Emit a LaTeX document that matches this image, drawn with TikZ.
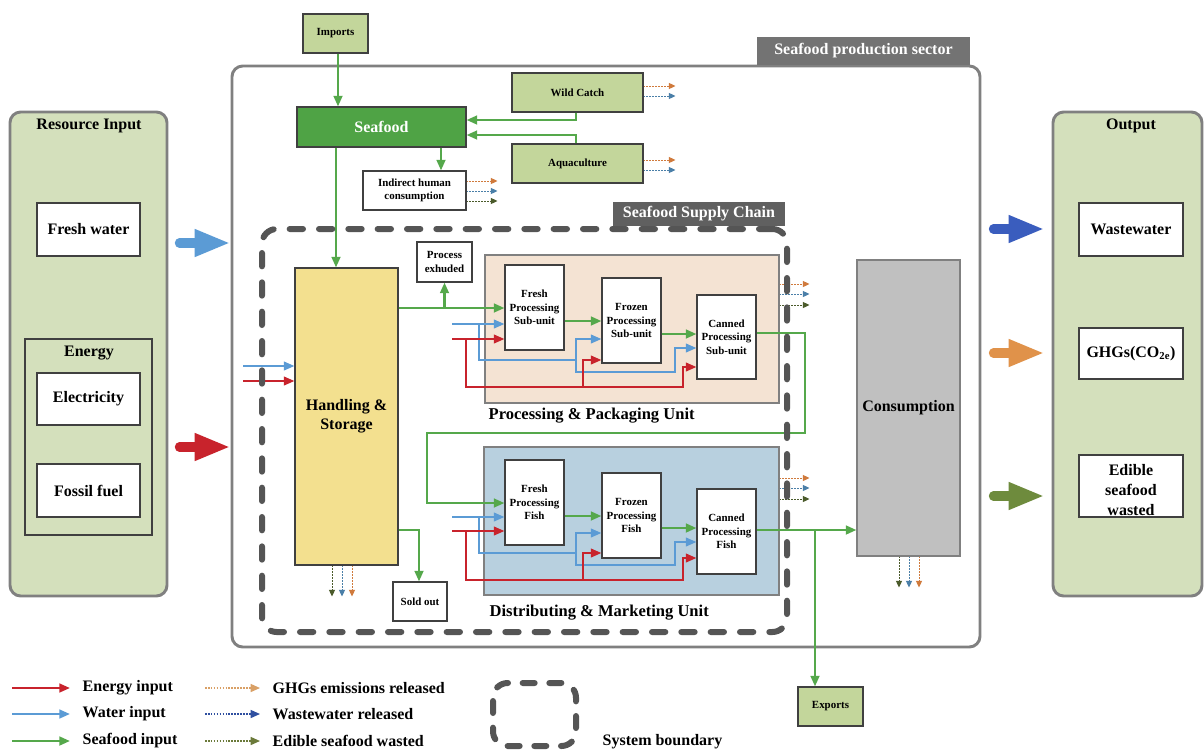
\documentclass[tikz,border=0pt]{standalone}
\usepackage{fontspec}
\setmainfont{Liberation Serif}
\usetikzlibrary{arrows.meta,fit,calc}
\definecolor{panelgreen}{HTML}{D4E0BC}
\definecolor{boxgreen}{HTML}{C3D69B}
\definecolor{seafoodgreen}{HTML}{4FA345}
\definecolor{arrgreen}{HTML}{55A84B}
\definecolor{handyellow}{HTML}{F3E08F}
\definecolor{procpeach}{HTML}{F4E3D3}
\definecolor{distblue}{HTML}{B8D0DF}
\definecolor{consgray}{HTML}{C0C0C0}
\definecolor{framegray}{HTML}{808080}
\definecolor{dashgray}{HTML}{555555}
\definecolor{tabgray}{HTML}{737373}
\definecolor{tabdark}{HTML}{606060}
\definecolor{enred}{HTML}{C8232C}
\definecolor{wblue}{HTML}{5B9BD5}
\definecolor{dotorange}{HTML}{D07A3C}
\definecolor{dotblue}{HTML}{4A7FA8}
\definecolor{dotgreen}{HTML}{4B5B2B}
\definecolor{legorange}{HTML}{D9A066}
\definecolor{legblue}{HTML}{2F4FA0}
\definecolor{legolive}{HTML}{6B7A3A}
\definecolor{outblue}{HTML}{3A5DBE}
\definecolor{outorange}{HTML}{E0924A}
\definecolor{outolive}{HTML}{6E8B3D}
\definecolor{edge}{HTML}{404040}
\tikzset{
  bigtxt/.style={font=\fontsize{12}{14}\selectfont\bfseries},
  smalltxt/.style={font=\fontsize{8.2}{10}\selectfont\bfseries},
  fbox/.style={draw=edge, line width=0.8pt, inner sep=0pt},
  wbox/.style={fbox, fill=white},
  gbox/.style={fbox, fill=boxgreen},
  btext/.style={label={[bigtxt, align=center]center:{#1}}},
  stext/.style={label={[smalltxt, align=center]center:{#1}}},
  wtext/.style={label={[bigtxt, align=center, text=white]center:{#1}}},
  panel/.style={draw=framegray, line width=2.2pt, fill=panelgreen, rounded corners=8pt, inner sep=0pt},
  gline/.style={draw=arrgreen, line width=1.9pt},
  garrow/.style={gline, -{Triangle[length=8pt,width=6.5pt]}},
  bline/.style={draw=wblue, line width=1.5pt},
  barrow/.style={bline, -{Triangle[length=8pt,width=6.5pt]}},
  rline/.style={draw=enred, line width=1.5pt},
  rarrow/.style={rline, -{Triangle[length=8pt,width=6.5pt]}},
  dotarr/.style={line width=0.7pt, dash pattern=on 1.2pt off 1pt, -{Triangle[length=5pt,width=4.5pt]}},
  bigarrow/.style={line width=7pt, line cap=round, -{Triangle[length=27pt,width=19pt]}},
  bound/.style={draw=dashgray, line width=4.5pt, dash pattern=on 10pt off 12pt, line cap=round, rounded corners=11pt, inner sep=0pt},
}
\begin{document}
\begin{tikzpicture}[x=0.75pt, y=-0.75pt]
\useasboundingbox[fill=white] (0,0) rectangle (1204,751);

% ---------- left panel
\node[panel, fit={(10,112) (167,596)}] (inpanel) {};
\node[bigtxt] (inlabel) at (89,126) {Resource Input};
\node[wbox, fit={(37,203) (140,256)}, btext={Fresh water}] (freshw) {};
\node[fbox, fill=panelgreen, fit={(25,339) (152,535)}] (energy) {};
\node[bigtxt] (energylabel) at (89,353) {Energy};
\node[wbox, fit={(37,373) (140,425)}, btext={Electricity}] (elec) {};
\node[wbox, fit={(37,464) (140,517)}, btext={Fossil fuel}] (fossil) {};

% ---------- right panel
\node[panel, fit={(1053,112) (1202,596)}] (outpanel) {};
\node[bigtxt] (outlabel) at (1131,126) {Output};
\node[wbox, fit={(1079,203) (1183,256)}, btext={Wastewater}] (wastew) {};
\node[wbox, fit={(1079,328) (1183,379)}, btext={GHGs(CO\textsubscript{2e})}] (ghg) {};
\node[wbox, fit={(1079,455) (1183,517)}] (edible) {};
\node[align=center, font=\fontsize{12}{15}\selectfont\bfseries] (ediblelabel) at (1131,490) {Edible\\seafood\\wasted};

% ---------- main frame
\node[draw=framegray, line width=2.2pt, rounded corners=8pt, inner sep=0pt, fit={(232,66) (980,647)}] (frame) {};
\node[fill=tabgray, inner sep=0pt, fit={(757,37) (970,65)}, wtext={Seafood production sector}] (tabps) {};

% big arrows
\draw[bigarrow, wblue] ($(inpanel.east |- 0,243)+(11,0)$) -- (frame.west |- 0,243);
\draw[bigarrow, enred] ($(inpanel.east |- 0,447)+(11,0)$) -- (frame.west |- 0,447);
\draw[bigarrow, outblue] ($(frame.east |- 0,229)+(12,0)$) -- ($(outpanel.west |- 0,229)+(-7,0)$);
\draw[bigarrow, outorange] ($(frame.east |- 0,353)+(12,0)$) -- ($(outpanel.west |- 0,353)+(-7,0)$);
\draw[bigarrow, outolive] ($(frame.east |- 0,496)+(12,0)$) -- ($(outpanel.west |- 0,496)+(-7,0)$);

% ---------- top part
\node[gbox, fit={(303,14) (368,53)}, stext={Imports}] (imports) {};
\node[fbox, fill=seafoodgreen, fit={(297,107) (466,147)}, wtext={Seafood}] (seafood) {};
\node[gbox, fit={(512,73) (643,112)}, stext={Wild Catch}] (wild) {};
\node[gbox, fit={(512,144) (643,183)}, stext={Aquaculture}] (aqua) {};
\node[wbox, fit={(363,171) (466,210)}, stext={Indirect human\\consumption}] (indirect) {};

\draw[garrow] (imports.south -| 338,0) -- (seafood.north -| 338,0);
\draw[garrow] (wild.south -| 576,0) |- (seafood.east |- 0,120);
\draw[garrow] (aqua.north -| 576,0) |- (seafood.east |- 0,135);
\draw[garrow] (seafood.south -| 441,0) -- (indirect.north -| 441,0);

\draw[dotarr, dotorange] (wild.east |- 0,86) -- ++(32,0);
\draw[dotarr, dotblue] (wild.east |- 0,96) -- ++(32,0);
\draw[dotarr, dotorange] (aqua.east |- 0,160) -- ++(32,0);
\draw[dotarr, dotblue] (aqua.east |- 0,170) -- ++(32,0);
\draw[dotarr, dotorange] (indirect.east |- 0,181) -- ++(31,0);
\draw[dotarr, dotblue] (indirect.east |- 0,191) -- ++(31,0);
\draw[dotarr, dotgreen] (indirect.east |- 0,201) -- ++(31,0);

% ---------- supply chain
\node[fbox, fill=handyellow, fit={(295,268) (398,565)}, btext={Handling \&\\Storage}] (handling) {};
\draw[garrow] (seafood.south -| 336,0) -- (handling.north -| 336,0);
\node[wbox, fit={(417,242) (472,282)}, stext={Process\\exhuded}] (exh) {};
\node[wbox, fit={(393,582) (447,621)}, stext={Sold out}] (soldout) {};

\coordinate (hb) at (243,366);
\coordinate (hr) at (243,381);
\draw[barrow] (hb) -- (handling.west |- hb);
\draw[rarrow] (hr) -- (handling.west |- hr);

\draw[dotarr, dotgreen] (handling.south -| 332,0) -- ++(0,31);
\draw[dotarr, dotblue] (handling.south -| 342,0) -- ++(0,31);
\draw[dotarr, dotorange] (handling.south -| 352,0) -- ++(0,31);

% processing & packaging
\node[draw=framegray, line width=0.8pt, fill=procpeach, inner sep=0pt, fit={(485,255) (779,403)}] (procunit) {};
\node[font=\fontsize{12.4}{14}\selectfont\bfseries, anchor=west] (proclabel) at (484,416) {Processing \& Packaging Unit};
\node[wbox, fit={(505,265) (564,350)}, stext={Fresh\\Processing\\Sub-unit}] (fresh1) {};
\node[wbox, fit={(602,278) (661,363)}, stext={Frozen\\Processing\\Sub-unit}] (frozen1) {};
\node[wbox, fit={(697,295) (756,379)}, stext={Canned\\Processing\\Sub-unit}] (canned1) {};

% distributing & marketing
\node[draw=framegray, line width=0.8pt, fill=distblue, inner sep=0pt, fit={(484,447) (779,595)}] (distunit) {};
\node[font=\fontsize{12.4}{14}\selectfont\bfseries, anchor=west] (distlabel) at (485,613) {Distributing \& Marketing Unit};
\node[wbox, fit={(505,460) (564,545)}, stext={Fresh\\Processing\\Fish}] (fresh2) {};
\node[wbox, fit={(602,473) (661,558)}, stext={Frozen\\Processing\\Fish}] (frozen2) {};
\node[wbox, fit={(697,489) (756,574)}, stext={Canned\\Processing\\Fish}] (canned2) {};

% consumption & exports
\node[fbox, fill=consgray, draw=framegray, fit={(857,260) (960,556)}, btext={Consumption}] (cons) {};
\node[gbox, fit={(798,687) (863,726)}, stext={Exports}] (exports) {};

% green flows
\draw[garrow] (handling.east |- 0,308) -- (fresh1.west |- 0,308);
\draw[garrow] (exh.south |- 0,308) -- (exh.south);
\draw[garrow] (fresh1.east |- 0,321) -- (frozen1.west |- 0,321);
\draw[garrow] (frozen1.east |- 0,334) -- (canned1.west |- 0,334);
\draw[garrow] (canned1.east |- 0,333) -- (805,333) -- (805,433) -- (427,433) -- (427,503) -- (fresh2.west |- 0,503);
\draw[garrow] (fresh2.east |- 0,516) -- (frozen2.west |- 0,516);
\draw[garrow] (frozen2.east |- 0,528) -- (canned2.west |- 0,528);
\draw[garrow] (canned2.east |- 0,530) -- (cons.west |- 0,530);
\draw[garrow] (815,530) -- (exports.north -| 815,0);
\draw[garrow] (handling.east |- 0,530) -| (soldout.north -| 419,0);

% water / energy in processing unit
\coordinate (pb) at (452,324);
\coordinate (pr) at (452,339);
\draw[barrow] (pb) -- (fresh1.west |- pb);
\draw[barrow] (479,324) -- (479,360) -- (576,360) -- (576,339) -- (frozen1.west |- 0,339);
\draw[barrow] (576,360) -- (576,372) -- (675,372) -- (675,348) -- (canned1.west |- 0,348);
\draw[rarrow] (pr) -- (fresh1.west |- pr);
\draw[rarrow] (466,339) -- (466,387) -- (683,387) -- (683,367) -- (canned1.west |- 0,367);
\draw[rarrow] (583,387) -- (583,360) -- (frozen1.west |- 0,360);

% water / energy in distributing unit
\coordinate (db) at (452,517);
\coordinate (dr) at (452,531);
\draw[barrow] (db) -- (fresh2.west |- db);
\draw[barrow] (479,517) -- (479,553) -- (576,553) -- (576,533) -- (frozen2.west |- 0,533);
\draw[barrow] (576,553) -- (576,565) -- (675,565) -- (675,542) -- (canned2.west |- 0,542);
\draw[rarrow] (dr) -- (fresh2.west |- dr);
\draw[rarrow] (466,531) -- (466,580) -- (683,580) -- (683,558) -- (canned2.west |- 0,558);
\draw[rarrow] (583,580) -- (583,553) -- (frozen2.west |- 0,553);

% dotted outputs
\draw[dotarr, dotorange] (procunit.east |- 0,284) -- ++(30,0);
\draw[dotarr, dotblue] (procunit.east |- 0,294) -- ++(30,0);
\draw[dotarr, dotgreen] (procunit.east |- 0,305) -- ++(30,0);
\draw[dotarr, dotorange] (distunit.east |- 0,478) -- ++(30,0);
\draw[dotarr, dotblue] (distunit.east |- 0,488) -- ++(30,0);
\draw[dotarr, dotgreen] (distunit.east |- 0,499) -- ++(30,0);
\draw[dotarr, dotgreen] (cons.south -| 899,0) -- ++(0,31);
\draw[dotarr, dotblue] (cons.south -| 909,0) -- ++(0,31);
\draw[dotarr, dotorange] (cons.south -| 919,0) -- ++(0,31);

% supply chain boundary
\node[bound, fit={(262,229) (787,632)}] (scb) {};
\node[fill=tabdark, inner sep=0pt, fit={(613,202) (785,226)}, wtext={Seafood Supply Chain}] (tabsc) {};

% ---------- legend
\coordinate (l1) at (12,688);
\coordinate (l2) at (12,714);
\coordinate (l3) at (12,741);
\draw[rarrow, line width=1.8pt] (l1) -- ++(58,0);
\draw[barrow, line width=1.8pt] (l2) -- ++(58,0);
\draw[garrow] (l3) -- ++(58,0);
\node[bigtxt, anchor=west] (t1) at (78,688) {Energy input};
\node[bigtxt, anchor=west] (t2) at (78,714) {Water input};
\node[bigtxt, anchor=west] (t3) at (78,741) {Seafood input};
\coordinate (m1) at (205,688);
\coordinate (m2) at (205,714);
\coordinate (m3) at (205,741);
\draw[dotarr, legorange, line width=1pt, -{Triangle[length=7pt,width=6pt]}] (m1) -- ++(55,0);
\draw[dotarr, legblue, line width=1pt, -{Triangle[length=7pt,width=6pt]}] (m2) -- ++(55,0);
\draw[dotarr, legolive, line width=1pt, -{Triangle[length=7pt,width=6pt]}] (m3) -- ++(55,0);
\node[bigtxt, anchor=west] (t4) at (268,688) {GHGs emissions released};
\node[bigtxt, anchor=west] (t5) at (268,714) {Wastewater released};
\node[bigtxt, anchor=west] (t6) at (268,741) {Edible seafood wasted};
\node[bound, dash pattern=on 9pt off 11pt, fit={(493,683) (576,746)}] (legbound) {};
\node[bigtxt, anchor=west] (t7) at (598,742) {System boundary};
\end{tikzpicture}
\end{document}
